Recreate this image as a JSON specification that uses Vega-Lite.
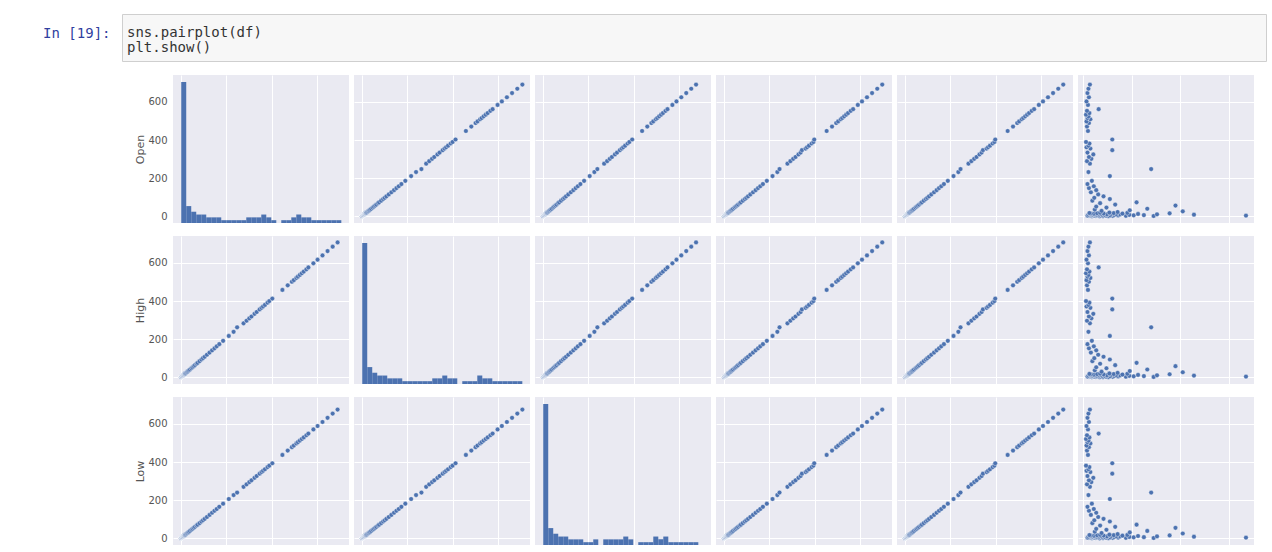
{
"$schema": "https://vega.github.io/schema/vega-lite/v6.json",
"padding": {"left": 42, "top": 13, "right": 0, "bottom": 0},
"background": "#ffffff",
"datasets": {
"code": [{"line": 1, "col": 0, "code": "sns.pairplot(df)"}, {"line": 2, "col": 0, "code": "plt.show()"}],
"spacer": [],
"stock": [
{"Open":1.2,"High":1.3,"Low":1.1,"Close":1.2,"Adj Close":1.2,"Volume":34000000},
{"Open":1.5,"High":1.6,"Low":1.4,"Close":1.5,"Adj Close":1.5,"Volume":52000000},
{"Open":1.9,"High":2.0,"Low":1.8,"Close":1.9,"Adj Close":1.9,"Volume":18000000},
{"Open":2.3,"High":2.4,"Low":2.2,"Close":2.3,"Adj Close":2.3,"Volume":41000000},
{"Open":2.6,"High":2.8,"Low":2.5,"Close":2.7,"Adj Close":2.7,"Volume":145000000},
{"Open":2.9,"High":3.0,"Low":2.8,"Close":2.9,"Adj Close":2.9,"Volume":26000000},
{"Open":3.2,"High":3.3,"Low":3.1,"Close":3.2,"Adj Close":3.2,"Volume":61000000},
{"Open":3.4,"High":3.6,"Low":3.3,"Close":3.5,"Adj Close":3.5,"Volume":12000000},
{"Open":3.7,"High":3.8,"Low":3.5,"Close":3.6,"Adj Close":3.6,"Volume":88000000},
{"Open":3.9,"High":4.1,"Low":3.8,"Close":4.0,"Adj Close":4.0,"Volume":23000000},
{"Open":4.2,"High":4.4,"Low":4.1,"Close":4.3,"Adj Close":4.3,"Volume":47000000},
{"Open":4.5,"High":4.6,"Low":4.3,"Close":4.4,"Adj Close":4.4,"Volume":9000000},
{"Open":4.8,"High":5.0,"Low":4.6,"Close":4.9,"Adj Close":4.9,"Volume":335000000},
{"Open":5.1,"High":5.3,"Low":5.0,"Close":5.2,"Adj Close":5.2,"Volume":72000000},
{"Open":5.4,"High":5.5,"Low":5.2,"Close":5.3,"Adj Close":5.3,"Volume":31000000},
{"Open":5.7,"High":5.9,"Low":5.6,"Close":5.8,"Adj Close":5.8,"Volume":15000000},
{"Open":6.0,"High":6.2,"Low":5.9,"Close":6.1,"Adj Close":6.1,"Volume":104000000},
{"Open":6.3,"High":6.4,"Low":6.1,"Close":6.2,"Adj Close":6.2,"Volume":56000000},
{"Open":6.6,"High":6.8,"Low":6.5,"Close":6.7,"Adj Close":6.7,"Volume":21000000},
{"Open":6.9,"High":7.1,"Low":6.8,"Close":7.0,"Adj Close":7.0,"Volume":39000000},
{"Open":7.2,"High":7.4,"Low":7.0,"Close":7.3,"Adj Close":7.3,"Volume":125000000},
{"Open":7.5,"High":7.7,"Low":7.4,"Close":7.6,"Adj Close":7.6,"Volume":17000000},
{"Open":7.9,"High":8.1,"Low":7.7,"Close":8.0,"Adj Close":8.0,"Volume":64000000},
{"Open":8.2,"High":8.4,"Low":8.0,"Close":8.3,"Adj Close":8.3,"Volume":28000000},
{"Open":8.6,"High":8.8,"Low":8.4,"Close":8.7,"Adj Close":8.7,"Volume":95000000},
{"Open":9.0,"High":9.2,"Low":8.8,"Close":9.1,"Adj Close":9.1,"Volume":11000000},
{"Open":9.3,"High":9.6,"Low":9.1,"Close":9.4,"Adj Close":9.4,"Volume":44000000},
{"Open":9.7,"High":9.9,"Low":9.5,"Close":9.8,"Adj Close":9.8,"Volume":228000000},
{"Open":10.1,"High":10.4,"Low":9.9,"Close":10.2,"Adj Close":10.2,"Volume":33000000},
{"Open":10.5,"High":10.8,"Low":10.3,"Close":10.6,"Adj Close":10.6,"Volume":76000000},
{"Open":10.9,"High":11.2,"Low":10.7,"Close":11.0,"Adj Close":11.0,"Volume":19000000},
{"Open":11.3,"High":11.6,"Low":11.1,"Close":11.4,"Adj Close":11.4,"Volume":152000000},
{"Open":11.7,"High":12.0,"Low":11.5,"Close":11.8,"Adj Close":11.8,"Volume":49000000},
{"Open":12.1,"High":12.4,"Low":11.9,"Close":12.2,"Adj Close":12.2,"Volume":25000000},
{"Open":12.5,"High":12.8,"Low":12.2,"Close":12.6,"Adj Close":12.6,"Volume":68000000},
{"Open":12.9,"High":13.2,"Low":12.6,"Close":13.0,"Adj Close":13.0,"Volume":14000000},
{"Open":13.3,"High":13.7,"Low":13.0,"Close":13.5,"Adj Close":13.5,"Volume":113000000},
{"Open":13.8,"High":14.1,"Low":13.5,"Close":13.9,"Adj Close":13.9,"Volume":37000000},
{"Open":14.2,"High":14.6,"Low":13.9,"Close":14.4,"Adj Close":14.4,"Volume":58000000},
{"Open":14.7,"High":15.0,"Low":14.4,"Close":14.8,"Adj Close":14.8,"Volume":22000000},
{"Open":15.1,"High":15.5,"Low":14.8,"Close":15.3,"Adj Close":15.3,"Volume":81000000},
{"Open":15.6,"High":16.0,"Low":15.3,"Close":15.8,"Adj Close":15.8,"Volume":16000000},
{"Open":16.1,"High":16.5,"Low":15.8,"Close":16.3,"Adj Close":16.3,"Volume":42000000},
{"Open":16.6,"High":17.0,"Low":16.2,"Close":16.8,"Adj Close":16.8,"Volume":178000000},
{"Open":17.1,"High":17.5,"Low":16.7,"Close":17.3,"Adj Close":17.3,"Volume":29000000},
{"Open":17.7,"High":18.1,"Low":17.3,"Close":17.9,"Adj Close":17.9,"Volume":63000000},
{"Open":18.3,"High":18.8,"Low":17.9,"Close":18.5,"Adj Close":18.5,"Volume":13000000},
{"Open":19.0,"High":19.5,"Low":18.6,"Close":19.2,"Adj Close":19.2,"Volume":91000000},
{"Open":19.8,"High":20.3,"Low":19.4,"Close":20.0,"Adj Close":20.0,"Volume":35000000},
{"Open":20.6,"High":21.1,"Low":20.1,"Close":20.8,"Adj Close":20.8,"Volume":54000000},
{"Open":23.5,"High":24.2,"Low":22.9,"Close":23.8,"Adj Close":23.8,"Volume":71000000},
{"Open":26.8,"High":27.6,"Low":26.1,"Close":27.2,"Adj Close":27.2,"Volume":205000000},
{"Open":29.4,"High":30.3,"Low":28.7,"Close":29.9,"Adj Close":29.9,"Volume":38000000},
{"Open":32.7,"High":33.8,"Low":31.9,"Close":33.1,"Adj Close":33.1,"Volume":96000000},
{"Open":36.2,"High":37.4,"Low":35.3,"Close":36.8,"Adj Close":36.8,"Volume":24000000},
{"Open":40.5,"High":41.9,"Low":39.6,"Close":41.0,"Adj Close":41.0,"Volume":132000000},
{"Open":46.8,"High":48.3,"Low":45.6,"Close":47.5,"Adj Close":47.5,"Volume":48000000},
{"Open":51.9,"High":53.6,"Low":50.4,"Close":52.7,"Adj Close":52.7,"Volume":27000000},
{"Open":57.3,"High":59.2,"Low":55.8,"Close":58.1,"Adj Close":58.1,"Volume":190000000},
{"Open":62.4,"High":64.5,"Low":60.9,"Close":63.6,"Adj Close":63.6,"Volume":66000000},
{"Open":69.5,"High":71.8,"Low":67.7,"Close":70.6,"Adj Close":70.6,"Volume":35000000},
{"Open":74.1,"High":76.5,"Low":72.3,"Close":75.4,"Adj Close":75.4,"Volume":110000000},
{"Open":82.6,"High":85.3,"Low":80.4,"Close":83.9,"Adj Close":83.9,"Volume":19000000},
{"Open":91.2,"High":94.1,"Low":88.9,"Close":92.8,"Adj Close":92.8,"Volume":55000000},
{"Open":97.8,"High":100.9,"Low":95.3,"Close":99.4,"Adj Close":99.4,"Volume":23000000},
{"Open":105.4,"High":108.6,"Low":102.7,"Close":107.1,"Adj Close":107.1,"Volume":42000000},
{"Open":115.3,"High":118.9,"Low":112.4,"Close":117.0,"Adj Close":117.0,"Volume":31000000},
{"Open":126.7,"High":130.4,"Low":123.5,"Close":128.9,"Adj Close":128.9,"Volume":16000000},
{"Open":137.9,"High":142.1,"Low":134.6,"Close":140.2,"Adj Close":140.2,"Volume":27000000},
{"Open":148.5,"High":152.8,"Low":145.0,"Close":150.9,"Adj Close":150.9,"Volume":12000000},
{"Open":158.2,"High":162.9,"Low":154.3,"Close":160.7,"Adj Close":160.7,"Volume":22000000},
{"Open":169.6,"High":174.5,"Low":165.8,"Close":172.3,"Adj Close":172.3,"Volume":9000000},
{"Open":186.4,"High":191.7,"Low":182.0,"Close":189.5,"Adj Close":189.5,"Volume":18000000},
{"Open":211.3,"High":217.2,"Low":206.5,"Close":214.6,"Adj Close":214.6,"Volume":55000000},
{"Open":232.5,"High":238.9,"Low":227.1,"Close":235.8,"Adj Close":235.8,"Volume":11000000},
{"Open":248.0,"High":262.5,"Low":240.3,"Close":245.4,"Adj Close":245.4,"Volume":140000000},
{"Open":276.3,"High":283.4,"Low":270.1,"Close":280.2,"Adj Close":280.2,"Volume":14000000},
{"Open":289.5,"High":296.8,"Low":283.2,"Close":293.1,"Adj Close":293.1,"Volume":8000000},
{"Open":301.7,"High":309.4,"Low":295.0,"Close":305.6,"Adj Close":305.6,"Volume":17000000},
{"Open":311.2,"High":319.0,"Low":304.3,"Close":315.8,"Adj Close":315.8,"Volume":12000000},
{"Open":324.6,"High":332.9,"Low":317.5,"Close":328.7,"Adj Close":328.7,"Volume":21000000},
{"Open":334.1,"High":342.5,"Low":326.8,"Close":338.2,"Adj Close":338.2,"Volume":9000000},
{"Open":346.9,"High":356.0,"Low":339.2,"Close":344.0,"Adj Close":344.0,"Volume":60000000},
{"Open":355.4,"High":364.3,"Low":347.6,"Close":360.1,"Adj Close":360.1,"Volume":15000000},
{"Open":362.0,"High":371.2,"Low":354.1,"Close":366.5,"Adj Close":366.5,"Volume":7000000},
{"Open":370.3,"High":379.6,"Low":362.2,"Close":374.9,"Adj Close":374.9,"Volume":11000000},
{"Open":381.7,"High":391.3,"Low":373.4,"Close":386.5,"Adj Close":386.5,"Volume":13000000},
{"Open":389.6,"High":399.5,"Low":381.0,"Close":394.4,"Adj Close":394.4,"Volume":6000000},
{"Open":402.8,"High":412.6,"Low":393.5,"Close":398.0,"Adj Close":398.0,"Volume":60000000},
{"Open":447.2,"High":458.1,"Low":437.0,"Close":452.6,"Adj Close":452.6,"Volume":10000000},
{"Open":470.5,"High":481.9,"Low":459.8,"Close":476.3,"Adj Close":476.3,"Volume":8000000},
{"Open":488.9,"High":500.6,"Low":477.8,"Close":494.7,"Adj Close":494.7,"Volume":12000000},
{"Open":497.3,"High":509.2,"Low":486.1,"Close":503.2,"Adj Close":503.2,"Volume":7000000},
{"Open":508.6,"High":520.8,"Low":497.2,"Close":514.5,"Adj Close":514.5,"Volume":15000000},
{"Open":515.2,"High":527.5,"Low":503.6,"Close":521.1,"Adj Close":521.1,"Volume":9000000},
{"Open":523.8,"High":536.3,"Low":512.0,"Close":529.7,"Adj Close":529.7,"Volume":11000000},
{"Open":532.4,"High":545.1,"Low":520.4,"Close":538.3,"Adj Close":538.3,"Volume":6000000},
{"Open":541.0,"High":553.9,"Low":528.8,"Close":546.9,"Adj Close":546.9,"Volume":13000000},
{"Open":552.6,"High":565.8,"Low":540.1,"Close":558.5,"Adj Close":558.5,"Volume":8000000},
{"Open":561.3,"High":575.6,"Low":548.6,"Close":569.0,"Adj Close":569.0,"Volume":32000000},
{"Open":583.4,"High":597.3,"Low":570.2,"Close":589.6,"Adj Close":589.6,"Volume":10000000},
{"Open":601.8,"High":616.2,"Low":588.2,"Close":608.1,"Adj Close":608.1,"Volume":7000000},
{"Open":623.5,"High":638.4,"Low":609.4,"Close":630.0,"Adj Close":630.0,"Volume":12000000},
{"Open":645.7,"High":661.1,"Low":631.1,"Close":652.4,"Adj Close":652.4,"Volume":9000000},
{"Open":668.2,"High":684.2,"Low":653.1,"Close":675.2,"Adj Close":675.2,"Volume":11000000},
{"Open":689.9,"High":706.4,"Low":674.3,"Close":697.1,"Adj Close":697.1,"Volume":14000000}
]
},
"spacing": 13,
"vconcat": [
{"width": 1144, "height": 47, "view": {"fill": "#f7f7f7", "stroke": "#cfcfcf"}, "data": {"name": "code"},
 "mark": {"type": "text", "align": "left", "baseline": "middle", "font": "DejaVu Sans Mono", "fontSize": 14, "color": "#333333", "dx": 5, "dy": 3},
 "encoding": {
  "x": {"field": "col", "type": "quantitative", "scale": {"domain": [0, 1]}, "axis": null},
  "y": {"field": "line", "type": "ordinal", "scale": {"type": "point", "padding": 1}, "axis": {"title": "In [19]:", "titleAngle": 0, "titleFont": "DejaVu Sans Mono", "titleFontSize": 14, "titleFontWeight": "normal", "titleColor": "#303F9F", "titleAlign": "right", "titleBaseline": "middle", "titleY": 19, "titlePadding": 12, "labels": false, "ticks": false, "domain": false, "grid": false}},
  "text": {"field": "code"}
 }
},
{"align": "none", "hconcat": [
 {"width": 7, "height": 148, "view": {"fill": null, "stroke": null}, "data": {"name": "spacer"}, "mark": "point", "encoding": {}},
 {"width": 176, "height": 148, "data": {"name": "stock"},
  "layer": [
   {"mark": {"type": "bar", "color": "#4C72B0", "binSpacing": 0},
    "encoding": {"x": {"field": "Open", "type": "quantitative", "bin": {"extent": [0, 704], "step": 22}, "scale": {"domain": [-34, 740], "nice": false, "zero": false}, "axis": {"values": [0, 200, 400, 600], "labels": false, "title": null}},
     "y": {"aggregate": "count", "type": "quantitative", "scale": {"domain": [0, 52.5], "nice": false}, "axis": null}}},
   {"mark": {"type": "point", "opacity": 0},
    "encoding": {"y": {"field": "Open", "type": "quantitative", "scale": {"domain": [-34, 740], "nice": false, "zero": false}, "axis": {"orient": "left", "values": [0, 200, 400, 600], "title": "Open", "labelPadding": 6, "titlePadding": 2}}}}
  ],
  "resolve": {"scale": {"y": "independent"}, "axis": {"y": "independent"}}},
 {"width": 176, "height": 148, "data": {"name": "stock"}, "mark": {"type": "circle", "size": 22, "color": "#4C72B0", "opacity": 1, "stroke": "#ffffff", "strokeWidth": 0.4},
  "encoding": {"x": {"field": "High", "type": "quantitative", "scale": {"domain": [-34, 740], "nice": false, "zero": false}, "axis": {"values": [0, 200, 400, 600], "labels": false, "title": null}},
   "y": {"field": "Open", "type": "quantitative", "scale": {"domain": [-34, 740], "nice": false, "zero": false}, "axis": {"values": [0, 200, 400, 600], "labels": false, "title": null}}}},
 {"width": 176, "height": 148, "data": {"name": "stock"}, "mark": {"type": "circle", "size": 22, "color": "#4C72B0", "opacity": 1, "stroke": "#ffffff", "strokeWidth": 0.4},
  "encoding": {"x": {"field": "Low", "type": "quantitative", "scale": {"domain": [-34, 740], "nice": false, "zero": false}, "axis": {"values": [0, 200, 400, 600], "labels": false, "title": null}},
   "y": {"field": "Open", "type": "quantitative", "scale": {"domain": [-34, 740], "nice": false, "zero": false}, "axis": {"values": [0, 200, 400, 600], "labels": false, "title": null}}}},
 {"width": 176, "height": 148, "data": {"name": "stock"}, "mark": {"type": "circle", "size": 22, "color": "#4C72B0", "opacity": 1, "stroke": "#ffffff", "strokeWidth": 0.4},
  "encoding": {"x": {"field": "Close", "type": "quantitative", "scale": {"domain": [-34, 740], "nice": false, "zero": false}, "axis": {"values": [0, 200, 400, 600], "labels": false, "title": null}},
   "y": {"field": "Open", "type": "quantitative", "scale": {"domain": [-34, 740], "nice": false, "zero": false}, "axis": {"values": [0, 200, 400, 600], "labels": false, "title": null}}}},
 {"width": 176, "height": 148, "data": {"name": "stock"}, "mark": {"type": "circle", "size": 22, "color": "#4C72B0", "opacity": 1, "stroke": "#ffffff", "strokeWidth": 0.4},
  "encoding": {"x": {"field": "Adj Close", "type": "quantitative", "scale": {"domain": [-34, 740], "nice": false, "zero": false}, "axis": {"values": [0, 200, 400, 600], "labels": false, "title": null}},
   "y": {"field": "Open", "type": "quantitative", "scale": {"domain": [-34, 740], "nice": false, "zero": false}, "axis": {"values": [0, 200, 400, 600], "labels": false, "title": null}}}},
 {"width": 176, "height": 148, "data": {"name": "stock"}, "mark": {"type": "circle", "size": 22, "color": "#4C72B0", "opacity": 1, "stroke": "#ffffff", "strokeWidth": 0.4},
  "encoding": {"x": {"field": "Volume", "type": "quantitative", "scale": {"domain": [-10500000, 351500000], "nice": false, "zero": false}, "axis": {"values": [0, 100000000, 200000000, 300000000], "labels": false, "title": null}},
   "y": {"field": "Open", "type": "quantitative", "scale": {"domain": [-34, 740], "nice": false, "zero": false}, "axis": {"values": [0, 200, 400, 600], "labels": false, "title": null}}}}
]},
{"align": "none", "hconcat": [
 {"width": 7, "height": 148, "view": {"fill": null, "stroke": null}, "data": {"name": "spacer"}, "mark": "point", "encoding": {}},
 {"width": 176, "height": 148, "data": {"name": "stock"}, "mark": {"type": "circle", "size": 22, "color": "#4C72B0", "opacity": 1, "stroke": "#ffffff", "strokeWidth": 0.4},
  "encoding": {"x": {"field": "Open", "type": "quantitative", "scale": {"domain": [-34, 740], "nice": false, "zero": false}, "axis": {"values": [0, 200, 400, 600], "labels": false, "title": null}},
   "y": {"field": "High", "type": "quantitative", "scale": {"domain": [-34, 740], "nice": false, "zero": false}, "axis": {"values": [0, 200, 400, 600], "title": "High", "labelPadding": 6, "titlePadding": 2}}}},
 {"width": 176, "height": 148, "data": {"name": "stock"},
  "layer": [
   {"mark": {"type": "bar", "color": "#4C72B0", "binSpacing": 0},
    "encoding": {"x": {"field": "High", "type": "quantitative", "bin": {"extent": [0, 704], "step": 22}, "scale": {"domain": [-34, 740], "nice": false, "zero": false}, "axis": {"values": [0, 200, 400, 600], "labels": false, "title": null}},
     "y": {"aggregate": "count", "type": "quantitative", "scale": {"domain": [0, 52.5], "nice": false}, "axis": null}}},
   {"mark": {"type": "point", "opacity": 0},
    "encoding": {"y": {"field": "High", "type": "quantitative", "scale": {"domain": [-34, 740], "nice": false, "zero": false}, "axis": {"orient": "left", "values": [0, 200, 400, 600], "labels": false, "title": null}}}}
  ],
  "resolve": {"scale": {"y": "independent"}, "axis": {"y": "independent"}}},
 {"width": 176, "height": 148, "data": {"name": "stock"}, "mark": {"type": "circle", "size": 22, "color": "#4C72B0", "opacity": 1, "stroke": "#ffffff", "strokeWidth": 0.4},
  "encoding": {"x": {"field": "Low", "type": "quantitative", "scale": {"domain": [-34, 740], "nice": false, "zero": false}, "axis": {"values": [0, 200, 400, 600], "labels": false, "title": null}},
   "y": {"field": "High", "type": "quantitative", "scale": {"domain": [-34, 740], "nice": false, "zero": false}, "axis": {"values": [0, 200, 400, 600], "labels": false, "title": null}}}},
 {"width": 176, "height": 148, "data": {"name": "stock"}, "mark": {"type": "circle", "size": 22, "color": "#4C72B0", "opacity": 1, "stroke": "#ffffff", "strokeWidth": 0.4},
  "encoding": {"x": {"field": "Close", "type": "quantitative", "scale": {"domain": [-34, 740], "nice": false, "zero": false}, "axis": {"values": [0, 200, 400, 600], "labels": false, "title": null}},
   "y": {"field": "High", "type": "quantitative", "scale": {"domain": [-34, 740], "nice": false, "zero": false}, "axis": {"values": [0, 200, 400, 600], "labels": false, "title": null}}}},
 {"width": 176, "height": 148, "data": {"name": "stock"}, "mark": {"type": "circle", "size": 22, "color": "#4C72B0", "opacity": 1, "stroke": "#ffffff", "strokeWidth": 0.4},
  "encoding": {"x": {"field": "Adj Close", "type": "quantitative", "scale": {"domain": [-34, 740], "nice": false, "zero": false}, "axis": {"values": [0, 200, 400, 600], "labels": false, "title": null}},
   "y": {"field": "High", "type": "quantitative", "scale": {"domain": [-34, 740], "nice": false, "zero": false}, "axis": {"values": [0, 200, 400, 600], "labels": false, "title": null}}}},
 {"width": 176, "height": 148, "data": {"name": "stock"}, "mark": {"type": "circle", "size": 22, "color": "#4C72B0", "opacity": 1, "stroke": "#ffffff", "strokeWidth": 0.4},
  "encoding": {"x": {"field": "Volume", "type": "quantitative", "scale": {"domain": [-10500000, 351500000], "nice": false, "zero": false}, "axis": {"values": [0, 100000000, 200000000, 300000000], "labels": false, "title": null}},
   "y": {"field": "High", "type": "quantitative", "scale": {"domain": [-34, 740], "nice": false, "zero": false}, "axis": {"values": [0, 200, 400, 600], "labels": false, "title": null}}}}
]},
{"align": "none", "hconcat": [
 {"width": 7, "height": 148, "view": {"fill": null, "stroke": null}, "data": {"name": "spacer"}, "mark": "point", "encoding": {}},
 {"width": 176, "height": 148, "data": {"name": "stock"}, "mark": {"type": "circle", "size": 22, "color": "#4C72B0", "opacity": 1, "stroke": "#ffffff", "strokeWidth": 0.4},
  "encoding": {"x": {"field": "Open", "type": "quantitative", "scale": {"domain": [-34, 740], "nice": false, "zero": false}, "axis": {"values": [0, 200, 400, 600], "labels": false, "title": null}},
   "y": {"field": "Low", "type": "quantitative", "scale": {"domain": [-34, 740], "nice": false, "zero": false}, "axis": {"values": [0, 200, 400, 600], "title": "Low", "labelPadding": 6, "titlePadding": 2}}}},
 {"width": 176, "height": 148, "data": {"name": "stock"}, "mark": {"type": "circle", "size": 22, "color": "#4C72B0", "opacity": 1, "stroke": "#ffffff", "strokeWidth": 0.4},
  "encoding": {"x": {"field": "High", "type": "quantitative", "scale": {"domain": [-34, 740], "nice": false, "zero": false}, "axis": {"values": [0, 200, 400, 600], "labels": false, "title": null}},
   "y": {"field": "Low", "type": "quantitative", "scale": {"domain": [-34, 740], "nice": false, "zero": false}, "axis": {"values": [0, 200, 400, 600], "labels": false, "title": null}}}},
 {"width": 176, "height": 148, "data": {"name": "stock"},
  "layer": [
   {"mark": {"type": "bar", "color": "#4C72B0", "binSpacing": 0},
    "encoding": {"x": {"field": "Low", "type": "quantitative", "bin": {"extent": [0, 704], "step": 22}, "scale": {"domain": [-34, 740], "nice": false, "zero": false}, "axis": {"values": [0, 200, 400, 600], "labels": false, "title": null}},
     "y": {"aggregate": "count", "type": "quantitative", "scale": {"domain": [0, 52.5], "nice": false}, "axis": null}}},
   {"mark": {"type": "point", "opacity": 0},
    "encoding": {"y": {"field": "Low", "type": "quantitative", "scale": {"domain": [-34, 740], "nice": false, "zero": false}, "axis": {"orient": "left", "values": [0, 200, 400, 600], "labels": false, "title": null}}}}
  ],
  "resolve": {"scale": {"y": "independent"}, "axis": {"y": "independent"}}},
 {"width": 176, "height": 148, "data": {"name": "stock"}, "mark": {"type": "circle", "size": 22, "color": "#4C72B0", "opacity": 1, "stroke": "#ffffff", "strokeWidth": 0.4},
  "encoding": {"x": {"field": "Close", "type": "quantitative", "scale": {"domain": [-34, 740], "nice": false, "zero": false}, "axis": {"values": [0, 200, 400, 600], "labels": false, "title": null}},
   "y": {"field": "Low", "type": "quantitative", "scale": {"domain": [-34, 740], "nice": false, "zero": false}, "axis": {"values": [0, 200, 400, 600], "labels": false, "title": null}}}},
 {"width": 176, "height": 148, "data": {"name": "stock"}, "mark": {"type": "circle", "size": 22, "color": "#4C72B0", "opacity": 1, "stroke": "#ffffff", "strokeWidth": 0.4},
  "encoding": {"x": {"field": "Adj Close", "type": "quantitative", "scale": {"domain": [-34, 740], "nice": false, "zero": false}, "axis": {"values": [0, 200, 400, 600], "labels": false, "title": null}},
   "y": {"field": "Low", "type": "quantitative", "scale": {"domain": [-34, 740], "nice": false, "zero": false}, "axis": {"values": [0, 200, 400, 600], "labels": false, "title": null}}}},
 {"width": 176, "height": 148, "data": {"name": "stock"}, "mark": {"type": "circle", "size": 22, "color": "#4C72B0", "opacity": 1, "stroke": "#ffffff", "strokeWidth": 0.4},
  "encoding": {"x": {"field": "Volume", "type": "quantitative", "scale": {"domain": [-10500000, 351500000], "nice": false, "zero": false}, "axis": {"values": [0, 100000000, 200000000, 300000000], "labels": false, "title": null}},
   "y": {"field": "Low", "type": "quantitative", "scale": {"domain": [-34, 740], "nice": false, "zero": false}, "axis": {"values": [0, 200, 400, 600], "labels": false, "title": null}}}}
]}
],
"config": {
 "font": "DejaVu Sans",
 "view": {"fill": "#EAEAF2", "stroke": null},
 "concat": {"spacing": 5},
 "axis": {"grid": true, "gridColor": "#ffffff", "gridWidth": 1, "gridOpacity": 1, "domain": false, "ticks": false, "labelFont": "DejaVu Sans", "labelFontSize": 10, "labelColor": "#555555", "titleFont": "DejaVu Sans", "titleFontSize": 11, "titleFontWeight": "normal", "titleColor": "#555555"}
}
}
